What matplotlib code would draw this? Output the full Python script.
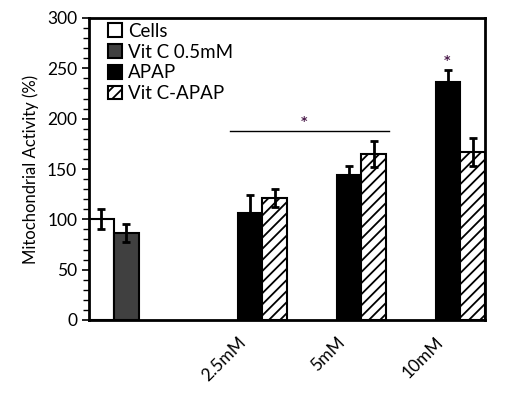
import matplotlib
matplotlib.use("Agg")
import matplotlib.pyplot as plt
import numpy as np

plt.rcParams['font.family'] = ['Lato', 'DejaVu Sans']
plt.rcParams['hatch.linewidth'] = 1.3

# categories (first one is the untreated control, no label)
categories = ["", "2.5mM", "5mM", "10mM"]
series = ["Cells", "Vit C 0.5mM", "APAP", "Vit C-APAP"]

# values per series, one per category (nan = no bar)
cells = [100, np.nan, np.nan, np.nan]
cells_err = [10, 0, 0, 0]
vitc = [86, np.nan, np.nan, np.nan]
vitc_err = [9, 0, 0, 0]
apap = [np.nan, 106, 144, 236]
apap_err = [0, 18, 9, 12]
vitc_apap = [np.nan, 121, 165, 167]
vitc_apap_err = [0, 9, 13, 14]

fig = plt.figure(figsize=(5.19, 3.97), dpi=100)
ax = fig.add_axes([89/519, 1-320/397, 396/519, 302/397])

w = 0.25
x = np.arange(len(categories))
styles = [
    dict(color="white"),
    dict(color="#404040"),
    dict(color="black"),
    dict(color="white", hatch="///"),
]
data = [(cells, cells_err), (vitc, vitc_err), (apap, apap_err), (vitc_apap, vitc_apap_err)]
for k, ((vals, errs), st) in enumerate(zip(data, styles)):
    ax.bar(x + (k + 0.5) * w, vals, w, edgecolor="black", linewidth=1.5,
           label=series[k], zorder=2, **st)
    vv = np.array(vals, dtype=float)
    m = ~np.isnan(vv)
    ax.errorbar((x + (k + 0.5) * w)[m], vv[m], yerr=np.array(errs)[m], fmt="none",
                ecolor="black", elinewidth=2, capsize=3, capthick=2, zorder=3)

# significance marks
ax.plot([1.42, 3.03], [187.5, 187.5], color="black", lw=1, zorder=3)
ax.text(2.17, 197, "*", color="#4a1a4a", fontsize=9, fontweight="bold",
        ha="center", va="center", family="DejaVu Sans")
ax.text(3.62, 258, "*", color="#4a1a4a", fontsize=9, fontweight="bold",
        ha="center", va="center", family="DejaVu Sans")

ax.set_xlim(0, 4)
ax.set_ylim(0, 300)
ax.set_yticks(np.arange(0, 301, 50))
ax.set_yticks(np.arange(0, 301, 10), minor=True)
ax.tick_params(axis="y", which="major", length=5, width=1.2, labelsize=12.5)
ax.tick_params(axis="y", which="minor", length=4, width=1)
ax.set_xticks(x[1:] + 0.5)
ax.set_xticklabels(categories[1:], rotation=45, ha="right", rotation_mode="anchor", fontsize=12.5)
ax.tick_params(axis="x", length=0, pad=10)
for s in ax.spines.values():
    s.set_linewidth(2)
ax.set_ylabel("Mitochondrial Activity (%)", fontsize=12, labelpad=6)

ax.legend(loc="upper left", bbox_to_anchor=(0.025, 1.015), frameon=False, fontsize=13.5,
          handlelength=0.75, handleheight=0.75, handletextpad=0.3, labelspacing=0.2,
          borderaxespad=0.1)

fig.savefig("out.png", dpi=100)
